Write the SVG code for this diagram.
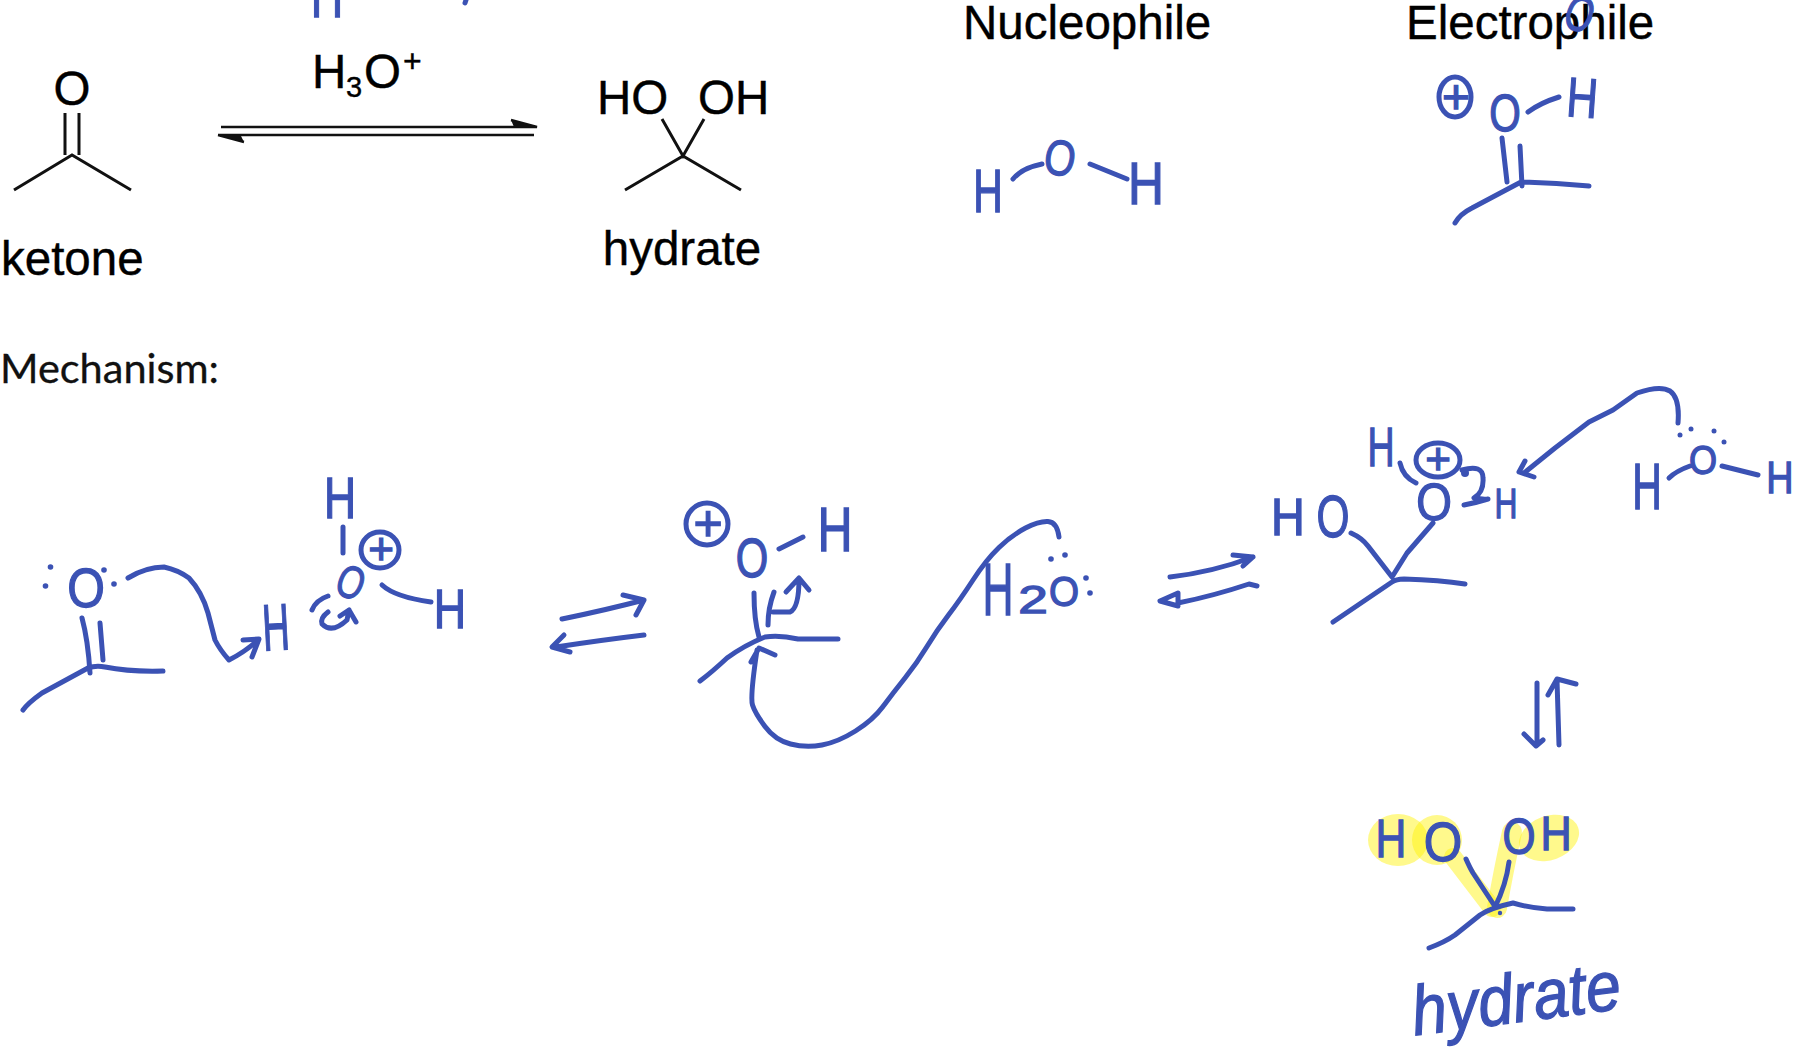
<svg xmlns="http://www.w3.org/2000/svg" width="1797" height="1047" viewBox="0 0 1797 1047">
<style>
.t{font-family:"Liberation Sans",Arial,sans-serif;font-size:47.500px;fill:#000;stroke:#000;stroke-width:.4}
.b{fill:none;stroke:#111;stroke-width:3}
.i{fill:none;stroke:#3b52b4;stroke-width:5;stroke-linecap:round;stroke-linejoin:round}
.hw{font-family:"Liberation Sans",Arial,sans-serif;fill:#3b52b4;stroke:#3b52b4;stroke-width:1.300;text-anchor:middle}
.d{fill:#3b52b4}
.y{fill:#fff200;opacity:.45}
.ys{fill:none;stroke:#fff200;opacity:.45;stroke-linecap:round}
</style>
<rect width="1797" height="1047" fill="#fff"/>

<g id="ketone">
<text class="t" x="72" y="105" text-anchor="middle">O</text>
<path class="b" d="M65 113V155M79 113V155M14 190L72 155L131 190"/>
<text class="t" x="1" y="275">ketone</text>
</g>
<g id="reagent">
<text class="t" x="312" y="88">H</text>
<text class="t" x="346" y="97" style="font-size:29px">3</text>
<text class="t" x="364" y="88">O</text>
<text class="t" x="403" y="72" style="font-size:32px">+</text>
</g>
<g id="hydrate-top">
<text class="t" x="597" y="114">HO</text>
<text class="t" x="698" y="114">OH</text>
<path class="b" d="M662 119L683 156L704 119M625 190L683 156L741 190"/>
<text class="t" x="682" y="265" text-anchor="middle">hydrate</text>
</g>
<g id="mechanism-label">
<text x="0" y="383" textLength="219" lengthAdjust="spacingAndGlyphs" style="font-family:Lato,'Liberation Sans',sans-serif;font-size:40px;fill:#111;stroke:#111;stroke-width:.3">Mechanism:</text>
</g>
<g id="nucleophile-label"><text class="t" x="963" y="39">Nucleophile</text></g>
<g id="electrophile-label"><text class="t" x="1406" y="39">Electrophile</text></g>

<g id="top-fragments">
<text class="hw" font-size="60" transform="translate(327 17) scale(.75 1)">H</text>
<path class="i" d="M466 0L465 3"/>
<text class="hw" font-size="50" transform="translate(1574 30) rotate(20) scale(.72 1)">O</text>
</g>

<g id="water">
<text class="hw" font-size="61" transform="translate(988 212) scale(.67 1)">H</text>
<text class="hw" font-size="50" transform="translate(1057 175) rotate(10) scale(.8 1)">O</text>
<text class="hw" font-size="60" transform="translate(1146 204) scale(.83 1)">H</text>
<path class="i" d="M1013 179Q1022 168 1042 164M1090 164L1127 179"/>
</g>

<g id="protonated-ketone-top">
<ellipse class="i" cx="1455" cy="97" rx="16" ry="20"/>
<text class="hw" font-size="48" x="1456" y="113">+</text>
<text class="hw" font-size="52" transform="translate(1505 131) scale(.78 1)">O</text>
<text class="hw" font-size="56" transform="translate(1581 117) rotate(4) scale(.77 1)">H</text>
<path class="i" d="M1528 112Q1540 103 1559 97M1502 138L1507 182M1520 146L1522 186M1455 223Q1460 214 1472 208L1521 182Q1555 183 1589 186"/>
</g>

<g id="ketone-step1">
<text class="hw" font-size="55" transform="translate(86 607) scale(.88 1)">O</text>
<circle class="d" cx="50.500" cy="567" r="2.800"/><circle class="d" cx="45.500" cy="586" r="2.800"/><circle class="d" cx="104" cy="570" r="2.800"/><circle class="d" cx="114" cy="584" r="2.800"/>
<path class="i" d="M82 618Q88 640 90 673M100 623L103 660M23 710Q28 703 42 693L88 668Q96 665 105 667Q130 672 163 671"/>
</g>

<g id="hydronium">
<text class="hw" font-size="66" transform="translate(277 650) rotate(-3) scale(.57 1)">H</text>
<text class="hw" font-size="57" transform="translate(340 518) scale(.78 1)">H</text>
<path class="i" d="M343 527V553M382 585Q395 597 431 602M312 610Q316 600 328 596"/>
<ellipse class="i" cx="380" cy="550" rx="19" ry="18"/>
<text class="hw" font-size="44" x="381" y="564">+</text>
<text class="hw" font-size="46" transform="translate(345 597) rotate(22) scale(.75 1)">O</text>
<text class="hw" font-size="56" transform="translate(450 628) scale(.8 1)">H</text>
</g>

<g id="protonated-ketone">
<ellipse class="i" cx="707" cy="524" rx="21" ry="21"/>
<text class="hw" font-size="50" x="708" y="540">+</text>
<text class="hw" font-size="55" transform="translate(752 577) scale(.76 1)">O</text>
<text class="hw" font-size="63" transform="translate(835 551) scale(.77 1)">H</text>
<path class="i" d="M779 549L803 537M754 593Q754 620 759 637M774 592Q768 608 768 625M700 681Q712 672 727 658Q745 645 765 637Q780 635 798 639H838"/>
</g>

<g id="water-step2">
<text class="hw" font-size="74" transform="translate(998 615) scale(.58 1)">H</text>
<text class="hw" font-size="38" transform="translate(1033 613) scale(1.4 1)">2</text>
<text class="hw" font-size="43" transform="translate(1064 606) scale(.9 1)">O</text>
<circle class="d" cx="1051" cy="559" r="2.800"/><circle class="d" cx="1065" cy="555" r="2.800"/><circle class="d" cx="1086" cy="578" r="2.800"/><circle class="d" cx="1090" cy="593" r="2.800"/>
</g>

<g id="oxonium-intermediate">
<text class="hw" font-size="52" transform="translate(1288 535) scale(.9 1)">H</text>
<text class="hw" font-size="59" transform="translate(1333 537) scale(.72 1)">O</text>
<text class="hw" font-size="56" transform="translate(1381 466) scale(.67 1)">H</text>
<ellipse class="i" cx="1438" cy="460" rx="22" ry="17"/>
<text class="hw" font-size="44" x="1438" y="474">+</text>
<text class="hw" font-size="51" transform="translate(1434 520) scale(.9 1)">O</text>
<text class="hw" font-size="43" transform="translate(1506 518) scale(.74 1)">H</text>
<path class="i" d="M1400 463Q1403 477 1416 483M1462 470Q1483 464 1483 478Q1484 492 1474 498Q1488 500 1488 499Q1475 503 1464 505M1351 533Q1362 538 1368 546L1392 577L1407 553L1433 523M1333 622L1392 582Q1396 579 1404 579Q1440 580 1465 584"/>
<circle class="d" cx="1465" cy="473" r="4"/>
</g>

<g id="water-step3">
<text class="hw" font-size="64" transform="translate(1647 509) scale(.64 1)">H</text>
<text class="hw" font-size="41" transform="translate(1703 474) scale(.88 1)">O</text>
<text class="hw" font-size="45" transform="translate(1780 493) scale(.84 1)">H</text>
<path class="i" d="M1669 478Q1676 471 1690 466M1722 466L1758 475"/>
<circle class="d" cx="1680" cy="435" r="2.500"/><circle class="d" cx="1691" cy="429" r="2.500"/><circle class="d" cx="1714" cy="431" r="2.500"/><circle class="d" cx="1724" cy="442" r="2.500"/>
</g>

<g id="hydrate-final">
<ellipse class="y" cx="1398" cy="840" rx="30" ry="26"/>
<ellipse class="y" cx="1437" cy="840" rx="25" ry="25"/>
<ellipse class="y" cx="1549" cy="838" rx="31" ry="22" transform="rotate(-20 1549 838)"/>
<path class="ys" stroke-width="18" d="M1453 857L1492 908"/>
<path class="ys" stroke-width="20" d="M1512 832Q1503 873 1497 908"/>
<text class="hw" font-size="54" transform="translate(1391 857) scale(.79 1)">H</text>
<text class="hw" font-size="55" transform="translate(1443 861) scale(.9 1)">O</text>
<text class="hw" font-size="50" transform="translate(1519 854) scale(.85 1)">O</text>
<text class="hw" font-size="49" transform="translate(1556 850) scale(.88 1)">H</text>
<path class="i" d="M1466 859Q1470 868 1473 873L1494 905M1509 862Q1506 885 1495 907M1429 948Q1445 942 1455 935L1480 915Q1490 908 1513 903Q1530 908 1547 909H1573"/>
<circle class="d" cx="1500" cy="913" r="2.200"/>
<text class="hw" font-size="70" transform="translate(1519 1022) rotate(-7.400) scale(.9 1)" style="font-style:italic">hydrate</text>
</g>

<g id="connectors">
<path class="b" style="stroke-width:2.400" d="M221 127H537L511 120M218 135H534M218 135L244 142"/>
<path d="M511 120L537 128L514 127Z M218 135L244 142L241 136Z" fill="#111"/>
<path class="i" d="M128 578Q146 567 164 567Q178 570 189 578Q202 592 208 613L215 640Q220 650 229 660Q245 652 258 640M243 640L259 639L252 657"/>
<path class="i" d="M328 612Q320 618 322 624Q332 634 347 620L349 610M340 616L349 610L356 622"/>
<path class="i" d="M562 619Q606 610 644 600M623 595L644 600L636 615M644 635Q602 640 556 647M564 635L552 647L570 652"/>
<path class="i" d="M773 612H790Q799 608 799 579M786 592L799 578L809 590"/>
<path class="i" d="M1059 537Q1057 522 1048 521.500Q1039 521 1025.500 528Q1012 535 999 547.500Q986 560 973 580Q960 600 948.500 615Q937 630 927 646.500Q917 663 905 678Q893 693 883 706.500Q873 720 855.500 731Q838 742 822 745Q806 748 790.500 744Q775 740 765 726.500Q755 713 752.500 705Q750 697 757 650M751 662L759 648L775 655"/>
<path class="i" d="M1170 577Q1213 572 1253 557M1233 555L1253 557L1243 566M1257 586L1249 584Q1213 596 1178 603M1178 593L1160 601L1178 606Z"/>
<path class="i" d="M1678 423Q1680 398 1670 391Q1660 385 1637 393L1613 410L1589 422L1555 448L1524 473M1525 461L1519 472L1534 477"/>
<path class="i" d="M1537 683V743M1524 734L1536 746L1543 740M1559 745L1557 680M1548 695L1557 679L1576 684"/>
</g>
</svg>
